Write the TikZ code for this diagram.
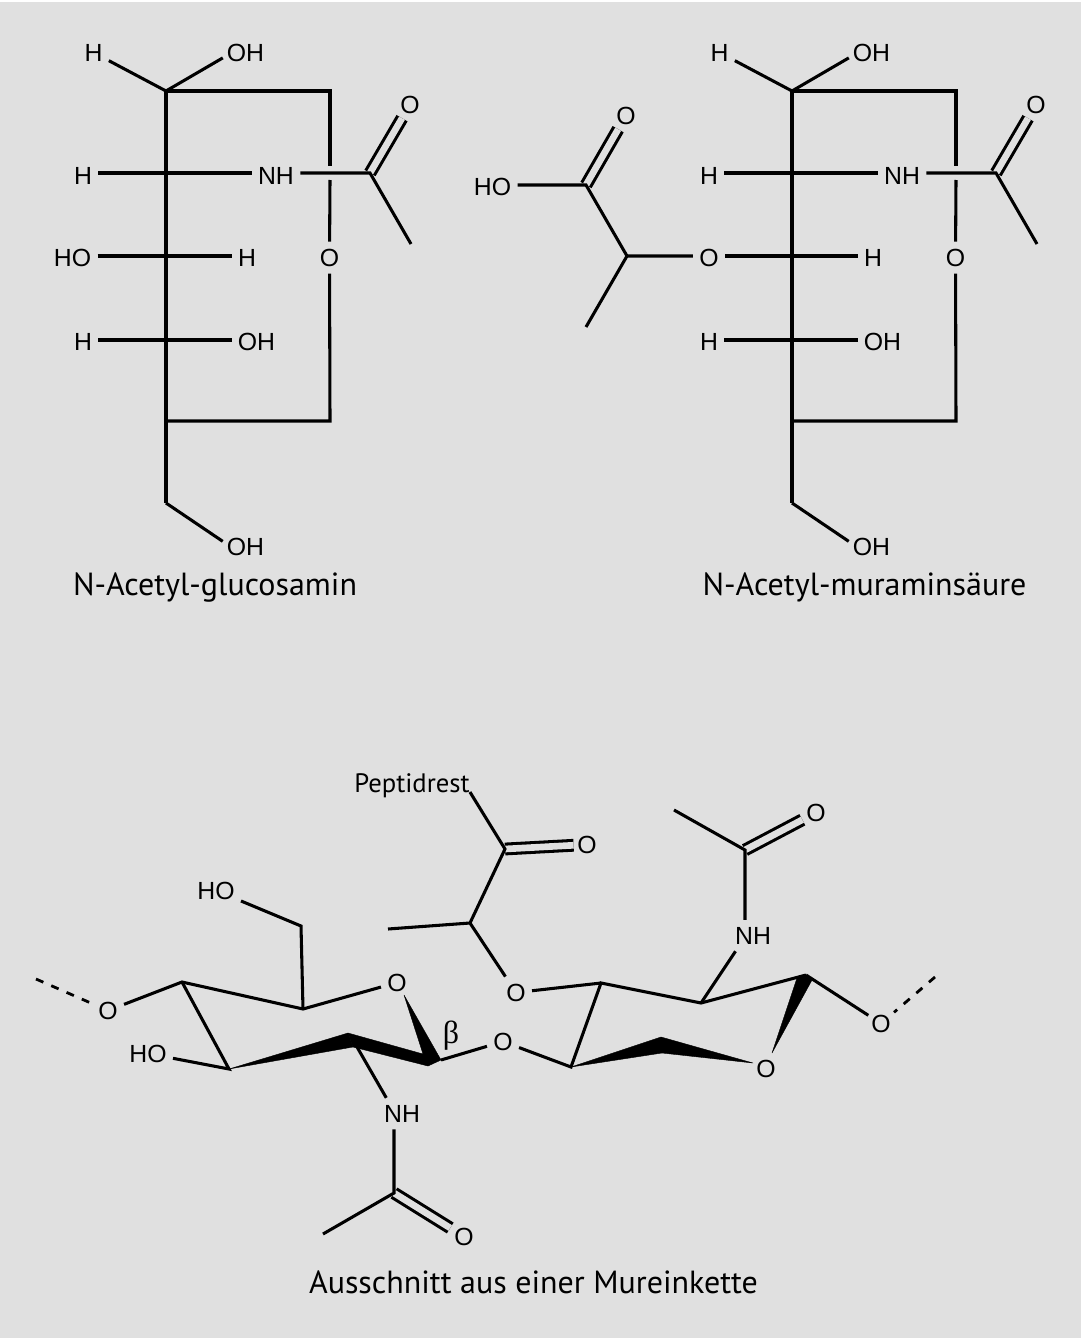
\documentclass[tikz,border=0pt]{standalone}
\usepackage{fontspec}
\setmainfont{Liberation Sans}
\newfontfamily\capfont{PT Sans}
\newfontfamily\betafont{Liberation Serif}
\definecolor{plategrey}{RGB}{224,224,224}
\tikzset{
	atom/.style={inner ysep=5.2pt, inner xsep=4.6pt, yshift=-0.4pt, font=\fontsize{18.6}{20}\selectfont},
	caption/.style={inner sep=0pt, anchor=base, font=\capfont\fontsize{24}{26}\selectfont},
	bond/.style={line width=2.3pt, line join=miter},
	cobond/.style={line width=2.3pt, double=plategrey, double distance=5pt, shorten >=-2pt},
	wedge/.style={fill=black, draw=black, line width=0.3pt, line join=round},
	hashed/.style={line width=2.1pt, dash pattern=on 6pt off 6.5pt, shorten >=-3pt}
}

\begin{document}
\begin{tikzpicture}[x=0.75pt,y=-0.75pt]
	\useasboundingbox (0,0) rectangle (1083,1338);
	\fill[plategrey] (0,2) rectangle (1081,1338);

	% N-Acetyl-glucosamin
	\coordinate (gc1) at (166,91);
	\coordinate (gc2) at (166,173);
	\coordinate (gc3) at (166,256);
	\coordinate (gc4) at (166,340);
	\coordinate (gc5) at (166,421);
	\coordinate (gc6) at (166,503);
	\coordinate (gra) at (330,91);
	\coordinate (grb) at (330,166);
	\coordinate (grc) at (330,180);
	\coordinate (grd) at (330,421);
	\coordinate (gco) at (370,173);
	\coordinate (gme) at (411,244);
	\node[atom] (gH1) at (93.5,52) {H};
	\node[atom] (gOH1) at (245.5,52) {OH};
	\node[atom] (gH2) at (83,175) {H};
	\node[atom] (gNH) at (276,175) {NH};
	\node[atom] (gO) at (410,104) {O};
	\node[atom] (gHO3) at (72.5,257) {HO};
	\node[atom] (gH3) at (247,257) {H};
	\node[atom] (gOr) at (329.5,257) {O};
	\node[atom] (gH4) at (83,341) {H};
	\node[atom] (gOH4) at (256.5,341) {OH};
	\node[atom] (gOH6) at (245.5,546) {OH};
	\node[caption] (gname) at (215,595) {N-Acetyl-glucosamin};
	\draw[cobond] (gco) -- (gO);
	\draw[bond] (gH1) -- (gc1);
	\draw[bond, shorten <=-2pt] (gOH1.195) -- (gc1);
	\draw[bond] (gc1) -- (gc6);
	\draw[bond] (gc1) -- (gra) -- (grb);
	\draw[bond] (grc) -- (gOr);
	\draw[bond] (gOr) -- (grd) -- (gc5);
	\draw[bond] (gH2.east |- gc2) -- (gNH.west |- gc2);
	\draw[bond] (gNH.east |- gco) -- (gco) -- (gme);
	\draw[bond] (gHO3.east |- gc3) -- (gH3.west |- gc3);
	\draw[bond] (gH4.east |- gc4) -- (gOH4.west |- gc4);
	\draw[bond, shorten >=-2pt] (gc6) -- (gOH6.165);

	% N-Acetyl-muraminsaeure
	\coordinate (mc1) at (792,91);
	\coordinate (mc2) at (792,173);
	\coordinate (mc3) at (792,256);
	\coordinate (mc4) at (792,340);
	\coordinate (mc5) at (792,421);
	\coordinate (mc6) at (792,503);
	\coordinate (mra) at (956,91);
	\coordinate (mrb) at (956,166);
	\coordinate (mrc) at (956,180);
	\coordinate (mrd) at (956,421);
	\coordinate (mco) at (996,173);
	\coordinate (mme) at (1037,244);
	\coordinate (lac) at (627,256);
	\coordinate (lme) at (586,327);
	\coordinate (lco) at (586,185);
	\node[atom] (mH1) at (719.5,52) {H};
	\node[atom] (mOH1) at (871.5,52) {OH};
	\node[atom] (mH2) at (709,175) {H};
	\node[atom] (mNH) at (902,175) {NH};
	\node[atom] (mO) at (1036,104) {O};
	\node[atom] (mOl) at (709,257) {O};
	\node[atom] (mH3) at (873,257) {H};
	\node[atom] (mOr) at (955.5,257) {O};
	\node[atom] (mH4) at (709,341) {H};
	\node[atom] (mOH4) at (882.5,341) {OH};
	\node[atom] (mOH6) at (871.5,546) {OH};
	\node[atom] (lHO) at (492.5,186) {HO};
	\node[atom] (lO) at (626,115) {O};
	\node[caption] (mname) at (864.5,595) {N-Acetyl-muraminsäure};
	\draw[cobond] (mco) -- (mO);
	\draw[cobond] (lco) -- (lO);
	\draw[bond] (mH1) -- (mc1);
	\draw[bond, shorten <=-2pt] (mOH1.195) -- (mc1);
	\draw[bond] (mc1) -- (mc6);
	\draw[bond] (mc1) -- (mra) -- (mrb);
	\draw[bond] (mrc) -- (mOr);
	\draw[bond] (mOr) -- (mrd) -- (mc5);
	\draw[bond] (mH2.east |- mc2) -- (mNH.west |- mc2);
	\draw[bond] (mNH.east |- mco) -- (mco) -- (mme);
	\draw[bond] (mOl.east |- mc3) -- (mH3.west |- mc3);
	\draw[bond] (mH4.east |- mc4) -- (mOH4.west |- mc4);
	\draw[bond, shorten >=-2pt] (mc6) -- (mOH6.165);
	\draw[bond] (mOl.west |- lac) -- (lac) -- (lme);
	\draw[bond] (lac) -- (lco) -- (lHO.east |- lco);

	% Ausschnitt
	\coordinate (a1) at (182,982);
	\coordinate (a2) at (229,1069);
	\coordinate (a3) at (303,1009);
	\coordinate (a4) at (301,926);
	\coordinate (a5) at (348,1033);
	\coordinate (a6) at (353,1047);
	\coordinate (a7) at (353,1040);
	\coordinate (a8) at (428,1066);
	\coordinate (a9) at (441,1060);
	\coordinate (a10) at (423,1054);
	\coordinate (a11) at (404,995);
	\coordinate (a12) at (394,1193);
	\coordinate (a13) at (323,1234);
	\coordinate (a14) at (36,979);
	\coordinate (b1) at (601,983);
	\coordinate (b2) at (571,1067);
	\coordinate (b3) at (701,1003);
	\coordinate (b4) at (806,975);
	\coordinate (b5) at (661,1037);
	\coordinate (b6) at (662,1053);
	\coordinate (b7) at (753,1063);
	\coordinate (b8) at (772,1053);
	\coordinate (b9) at (797,978);
	\coordinate (b10) at (812,980);
	\coordinate (b11) at (745,850);
	\coordinate (b12) at (674,810);
	\coordinate (b13) at (935,977);
	\coordinate (p1) at (470,923);
	\coordinate (p2) at (505,849);
	\coordinate (p3) at (388,929);
	\node[atom] (aO4) at (108,1010) {O};
	\node[atom] (aHO6) at (216,890) {HO};
	\node[atom] (aOr) at (397,982) {O};
	\node[atom] (aHO3) at (148,1053) {HO};
	\node[atom] (aNH) at (402,1113) {NH};
	\node[atom] (aO) at (464,1236) {O};
	\node[atom] (abO) at (503,1041) {O};
	\node[atom] (bO3) at (516,992) {O};
	\node[atom] (bNH) at (753,935) {NH};
	\node[atom] (bO) at (816,812) {O};
	\node[atom] (bOr) at (766,1068) {O};
	\node[atom] (bO1) at (881,1023) {O};
	\node[atom] (pO) at (587,844) {O};
	\node[caption, font=\capfont\fontsize{20}{22}\selectfont] (pept) at (412,792) {Peptidrest};
	\node[inner sep=0pt, font=\betafont\fontsize{24}{26}\selectfont] (beta) at (451,1036) {β};
	\node[caption] (aname) at (533.5,1293) {Ausschnitt aus einer Mureinkette};
	\draw[cobond] (a12) -- (aO);
	\draw[cobond] (p2) -- (pO);
	\draw[cobond] (b11) -- (bO);
	\draw[hashed] (a14) -- (aO4);
	\draw[hashed] (b13) -- (bO1);
	\draw[bond] (aO4) -- (a1) -- (a3) -- (aOr);
	\draw[bond] (a1) -- (a2) -- (aHO3);
	\draw[bond] (a3) -- (a4) -- (aHO6);
	\draw[bond] (a7) -- (aNH.135);
	\draw[bond] (aNH.south -| a12) -- (a12) -- (a13);
	\draw[bond] (a9) -- (abO);
	\draw[bond] (abO) -- (b2) -- (b1) -- (b3) -- (b4);
	\draw[bond, shorten >=-3pt] (b4) -- (bO1);
	\draw[bond] (bO3) -- (b1);
	\draw[bond] (b3) -- (bNH.222);
	\draw[bond] (bNH.north -| b11) -- (b11) -- (b12);
	\draw[bond] (pept.base east) -- (p2) -- (p1) -- (p3);
	\draw[bond] (p1) -- (bO3);
	\fill[wedge] (a2) -- (a5) -- (a6) -- cycle;
	\fill[wedge] (a5) -- (a10) -- (a11) -- (a9) -- (a8) -- (a6) -- cycle;
	\fill[wedge] (b2) -- (b5) -- (b7) -- (b6) -- cycle;
	\fill[wedge] (b8) -- (b9) -- (b4) -- (b10) -- cycle;
\end{tikzpicture}
\end{document}
